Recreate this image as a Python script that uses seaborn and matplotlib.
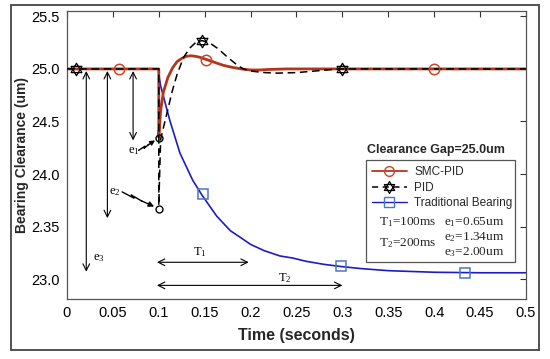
import numpy as np
import pandas as pd
import matplotlib
matplotlib.use("Agg")
import matplotlib.pyplot as plt
import seaborn as sns
from matplotlib.lines import Line2D
from matplotlib.path import Path
from matplotlib.patches import Rectangle

# ---------------- data ----------------
smc_t = [0.0, 0.1, 0.1, 0.102, 0.105, 0.11, 0.115, 0.12, 0.125, 0.13, 0.135, 0.14,
         0.145, 0.15, 0.16, 0.17, 0.18, 0.19, 0.2, 0.21, 0.22, 0.24, 0.3, 0.5]
smc_y = [25.0, 25.0, 24.35, 24.6, 24.78, 24.92, 25.01, 25.07, 25.1, 25.12, 25.125, 25.12,
         25.11, 25.095, 25.065, 25.035, 25.015, 25.0, 24.99, 24.99, 24.995, 25.0, 25.0, 25.0]

pid_t = [0.0, 0.1, 0.1, 0.102, 0.11, 0.115, 0.12, 0.127, 0.134, 0.14, 0.147, 0.155,
         0.165, 0.175, 0.185, 0.192, 0.2, 0.215, 0.23, 0.25, 0.27, 0.29, 0.3, 0.5]
pid_y = [25.0, 25.0, 23.7, 24.33, 24.62, 24.8, 24.95, 25.11, 25.2, 25.25, 25.27, 25.25,
         25.19, 25.11, 25.04, 25.0, 24.98, 24.965, 24.96, 24.965, 24.98, 24.995, 25.0, 25.0]

trad_t = [0.1, 0.102, 0.112, 0.123, 0.137, 0.147, 0.163, 0.178, 0.19, 0.2, 0.215, 0.232,
          0.246, 0.26, 0.28, 0.298, 0.32, 0.35, 0.4, 0.45, 0.5]
trad_y = [24.95, 24.84, 24.51, 24.2, 23.94, 23.8, 23.6, 23.46, 23.39, 23.33, 23.27, 23.22,
          23.2, 23.17, 23.14, 23.12, 23.1, 23.08, 23.065, 23.06, 23.06]

smc_mk_t = [0.057, 0.151, 0.4]
smc_mk_y = [25.0, 25.085, 25.0]
pid_mk_t = [0.01, 0.147, 0.3]
pid_mk_y = [25.0, 25.27, 25.0]
trad_mk_t = [0.148, 0.298, 0.434]
trad_mk_y = [23.81, 23.12, 23.06]

x_ticks = [0, 0.05, 0.1, 0.15, 0.2, 0.25, 0.3, 0.35, 0.4, 0.45, 0.5]
x_ticklabels = ["0", "0.05", "0.1", "0.15", "0.2", "0.25", "0.3", "0.35", "0.4", "0.45", "0.5"]
y_ticks = [23.0, 23.5, 24.0, 24.5, 25.0, 25.5]
y_ticklabels = ["23.0", "2.35", "24.0", "24.5", "25.0", "25.5"]

series_names = ["SMC-PID", "PID", "Traditional Bearing"]
legend_title = "Clearance Gap=25.0um"

# ---------------- style ----------------
sns.set_theme(style="white")
plt.rcParams["font.family"] = ["Liberation Sans", "DejaVu Sans"]
plt.rcParams["mathtext.fontset"] = "custom"
plt.rcParams["mathtext.rm"] = "Liberation Serif"
plt.rcParams["mathtext.it"] = "Liberation Serif:italic"

C_SMC = "#B2361C"
C_SMC_MK = "#C8462A"
C_TRAD = "#1C1CC4"
C_TRAD_MK = "#4A78C8"

# Star of David marker
ang_up = np.deg2rad([90, 210, 330])
ang_dn = np.deg2rad([270, 30, 150])
verts = []
codes = []
for angs in (ang_up, ang_dn):
    pts = [(np.cos(a), np.sin(a)) for a in angs]
    verts += pts + [pts[0]]
    codes += [Path.MOVETO, Path.LINETO, Path.LINETO, Path.CLOSEPOLY]
star = Path(verts, codes)

fig = plt.figure(figsize=(5.5, 3.59), dpi=100)
ax = fig.add_axes([0.1218, 0.167, 0.8345, 0.802])

df_trad = pd.DataFrame({"t": trad_t, "y": trad_y})
df_smc = pd.DataFrame({"t": smc_t, "y": smc_y})
df_pid = pd.DataFrame({"t": pid_t, "y": pid_y})

sns.lineplot(data=df_trad, x="t", y="y", ax=ax, sort=False, estimator=None,
             color=C_TRAD, lw=1.2, zorder=2)
sns.lineplot(data=df_smc, x="t", y="y", ax=ax, sort=False, estimator=None,
             color=C_SMC, lw=2.0, zorder=3)
sns.lineplot(data=df_pid, x="t", y="y", ax=ax, sort=False, estimator=None,
             color="black", lw=1.1, ls=(0, (5, 3)), zorder=4)

ax.plot(trad_mk_t, trad_mk_y, ls="none", marker="s", ms=7, mfc="none",
        mec=C_TRAD_MK, mew=1.1, zorder=5)
ax.plot(smc_mk_t, smc_mk_y, ls="none", marker="o", ms=7.5, mfc="none",
        mec=C_SMC_MK, mew=1.1, zorder=5)
ax.plot(pid_mk_t, pid_mk_y, ls="none", marker=star, ms=9, mfc="none",
        mec="black", mew=0.9, zorder=6)

# annotation circles
ax.plot([0.1, 0.1], [24.34, 23.67], ls="none", marker="o", ms=5, mfc="none",
        mec="black", mew=1.0, zorder=7)

# e arrows
arrow_kw = dict(arrowstyle="<->", color="black", lw=0.8, shrinkA=0, shrinkB=0)
for xe, yb in [(0.021, 23.07), (0.044, 23.58), (0.072, 24.32)]:
    ax.annotate("", xy=(xe, yb), xytext=(xe, 24.98), arrowprops=arrow_kw)

tf = dict(family="Liberation Serif", fontsize=9, color="black")
ax.text(0.028, 23.2, r"e$_3$", ha="left", va="center", **tf)
ax.text(0.052, 23.83, r"e$_2$", ha="center", va="center", **tf)
ax.text(0.073, 24.22, r"e$_1$", ha="center", va="center", **tf)

# lightning arrows
ax.plot([0.060, 0.073, 0.070, 0.082], [23.83, 23.77, 23.80, 23.74], color="black", lw=1.0)
ax.annotate("", xy=(0.095, 23.69), xytext=(0.081, 23.745),
            arrowprops=dict(arrowstyle="-|>", color="black", lw=1.0, mutation_scale=8,
                            shrinkA=0, shrinkB=0))
ax.plot([0.078, 0.085, 0.084, 0.089], [24.225, 24.265, 24.245, 24.28], color="black", lw=1.0)
ax.annotate("", xy=(0.096, 24.32), xytext=(0.088, 24.275),
            arrowprops=dict(arrowstyle="-|>", color="black", lw=1.0, mutation_scale=7,
                            shrinkA=0, shrinkB=0))

# T arrows
ax.annotate("", xy=(0.098, 23.16), xytext=(0.198, 23.16), arrowprops=arrow_kw)
ax.annotate("", xy=(0.098, 22.94), xytext=(0.3, 22.94), arrowprops=arrow_kw)
ax.text(0.145, 23.26, r"T$_1$", ha="center", va="center", **tf)
ax.text(0.237, 23.01, r"T$_2$", ha="center", va="center", **tf)

# axes formatting
ax.set_xlim(0, 0.5)
ax.set_ylim(22.81, 25.55)
ax.set_xticks(x_ticks)
ax.set_xticklabels(x_ticklabels)
ax.set_yticks(y_ticks)
ax.set_yticklabels(y_ticklabels)
ax.tick_params(direction="in", length=4, width=0.8, top=True, right=True,
               labelsize=10.5, pad=5, colors="#333333", labelcolor="black")
for s in ax.spines.values():
    s.set_color("#555555")
    s.set_linewidth(0.9)
ax.set_xlabel("Time (seconds)", fontsize=11.5, fontweight="bold", labelpad=6)
ax.set_ylabel("Bearing Clearance (um)", fontsize=10, fontweight="bold", labelpad=2)

# legend
h_smc = Line2D([], [], color=C_SMC, lw=1.3, marker="o", ms=7, mfc="none", mec=C_SMC_MK)
h_pid = Line2D([], [], color="black", lw=1.1, ls=(0, (4, 3)), marker=star, ms=8.5,
               mfc="none", mec="black", mew=0.9)
h_trad = Line2D([], [], color=C_TRAD, lw=1.0, marker="s", ms=7, mfc="none", mec=C_TRAD_MK)
ax.add_patch(Rectangle((0.651, 0.128), 0.325, 0.355, transform=ax.transAxes,
                       fill=True, facecolor="white", edgecolor="#555555", lw=0.9, zorder=8))
leg = ax.legend([h_smc, h_pid, h_trad], series_names, loc="upper left",
                bbox_to_anchor=(0.664, 0.462), frameon=False, fontsize=8.5,
                handlelength=3.0, handletextpad=0.6, labelspacing=0.31,
                borderaxespad=0, borderpad=0)
leg.set_zorder(9)
ax.text(0.804, 0.517, legend_title, transform=ax.transAxes, ha="center", va="center",
        fontsize=9, fontweight="bold", zorder=9)
tl = dict(family="Liberation Serif", fontsize=9.5, transform=ax.transAxes, zorder=9,
          va="center", ha="left")
ax.text(0.68, 0.267, r"T$_1$=100ms", **tl)
ax.text(0.68, 0.196, r"T$_2$=200ms", **tl)
ax.text(0.821, 0.267, r"e$_1$=0.65um", **tl)
ax.text(0.821, 0.215, r"e$_2$=1.34um", **tl)
ax.text(0.821, 0.163, r"e$_3$=2.00um", **tl)

# outer frame
fig.patches.append(Rectangle((0.02, 0.025), 0.96, 0.961, transform=fig.transFigure,
                             fill=False, edgecolor="#444444", lw=1.3))

fig.savefig("out.png", dpi=100)
